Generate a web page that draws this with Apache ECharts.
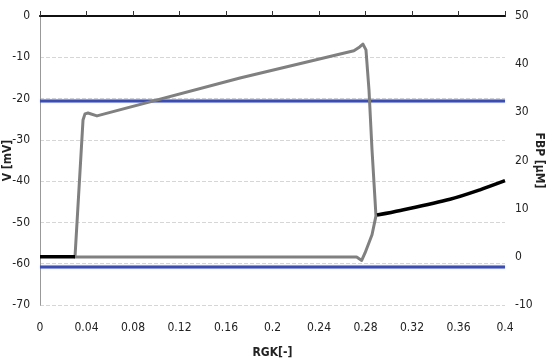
<!DOCTYPE html>
<html>
<head>
<meta charset="utf-8">
<script src="https://cdn.jsdelivr.net/npm/echarts@6/dist/echarts.min.js"></script>
<style>
  html, body { margin: 0; padding: 0; background: #fff; }
  #chart { width: 548px; height: 364px; }
</style>
</head>
<body>
<div id="chart"></div>
<script>
// membrane potential V [mV] vs RGK, hysteresis loop (unstable branch)
var loopRgk = [0.2724, 0.0301, 0.0370, 0.0387, 0.0413, 0.0490, 0.1720, 0.2700, 0.2750, 0.2778, 0.2804, 0.2830, 0.2856, 0.2882, 0.2890, 0.2856, 0.2796, 0.2767, 0.2724]
var loopV = [-58.4, -58.4, -25.2, -23.7, -23.5, -24.2, -15.0, -8.4, -7.5, -6.8, -8.2, -17.9, -32.4, -44.6, -48.4, -53.0, -57.4, -59.2, -58.4]

// stable branch (black)
var stableRgk = [0, 0.0301, null, 0.2899, 0.3100, 0.3527, 0.3785, 0.4000]
var stableV = [-58.3, -58.3, null, -48.2, -47.1, -44.4, -42.1, -39.9]

// horizontal reference levels (blue)
var refLevels = [-20.6, -60.8]

var xTicks = { min: 0, max: 0.4, step: 0.04 }

function pairs(xs, ys) {
  return xs.map(function (x, i) {
    return x === null ? '-' : [x, ys[i]]
  })
}

var chart = echarts.init(document.getElementById('chart'))
var labelFont = 'Liberation Sans Narrow, DejaVu Sans Condensed, sans-serif'

var series = refLevels.map(function (v) {
  return {
    type: 'line',
    yAxisIndex: 0,
    showSymbol: false,
    silent: true,
    lineStyle: { color: '#3b4db3', width: 3, shadowColor: 'rgba(110,130,210,0.35)', shadowBlur: 2 },
    data: [[xTicks.min, v], [xTicks.max, v]]
  }
})
series.push({
  type: 'line',
  yAxisIndex: 0,
  showSymbol: false,
  lineStyle: { color: '#808080', width: 3, join: 'round', cap: 'round' },
  data: pairs(loopRgk, loopV)
})
series.push({
  type: 'line',
  yAxisIndex: 0,
  showSymbol: false,
  smooth: 0.3,
  lineStyle: { color: '#000', width: 3.5 },
  data: pairs(stableRgk, stableV)
})

chart.setOption({
  animation: false,
  grid: { left: 40, right: 43, top: 16, bottom: 59, containLabel: false, outerBoundsMode: 'none' },
  xAxis: [{
    type: 'value',
    min: xTicks.min,
    max: xTicks.max,
    interval: xTicks.step,
    name: 'RGK[-]',
    nameLocation: 'middle',
    nameGap: 42,
    nameMoveOverlap: false,
    nameTextStyle: { color: '#222', fontSize: 12, fontFamily: labelFont, fontWeight: 'bold' },
    axisLine: { lineStyle: { color: '#111', width: 2 } },
    axisTick: { inside: true, length: 5, lineStyle: { color: '#333' } },
    axisLabel: {
      color: '#222', fontSize: 12, fontFamily: labelFont, margin: 17,
      formatter: function (v) { return +v.toFixed(2) + '' }
    },
    splitLine: { show: false }
  }, {
    type: 'value',
    position: 'top',
    min: xTicks.min,
    max: xTicks.max,
    axisLine: { show: true, onZero: false, lineStyle: { color: '#111', width: 1.5 } },
    axisTick: { show: false },
    axisLabel: { show: false },
    splitLine: { show: false }
  }],
  yAxis: [{
    type: 'value',
    min: -70,
    max: 0,
    interval: 10,
    name: 'V [mV]',
    nameLocation: 'middle',
    nameGap: 26,
    nameMoveOverlap: false,
    nameTextStyle: { color: '#222', fontSize: 12, fontFamily: labelFont, fontWeight: 'bold' },
    axisLine: { show: true, lineStyle: { color: '#999' } },
    axisTick: { show: false },
    axisLabel: { color: '#222', fontSize: 12, fontFamily: labelFont, margin: 10 },
    splitLine: { lineStyle: { color: '#d6d6d6', type: 'dashed' } }
  }, {
    type: 'value',
    position: 'right',
    min: -10,
    max: 50,
    interval: 10,
    name: 'FBP [μM]',
    nameLocation: 'middle',
    nameRotate: -90,
    nameGap: 28,
    nameMoveOverlap: false,
    nameTextStyle: { color: '#222', fontSize: 12, fontFamily: labelFont, fontWeight: 'bold' },
    axisLine: { show: true, lineStyle: { color: '#999' } },
    axisTick: { show: false },
    axisLabel: { color: '#222', fontSize: 12, fontFamily: labelFont, margin: 10 },
    splitLine: { show: false }
  }],
  series: series
})
</script>
</body>
</html>
